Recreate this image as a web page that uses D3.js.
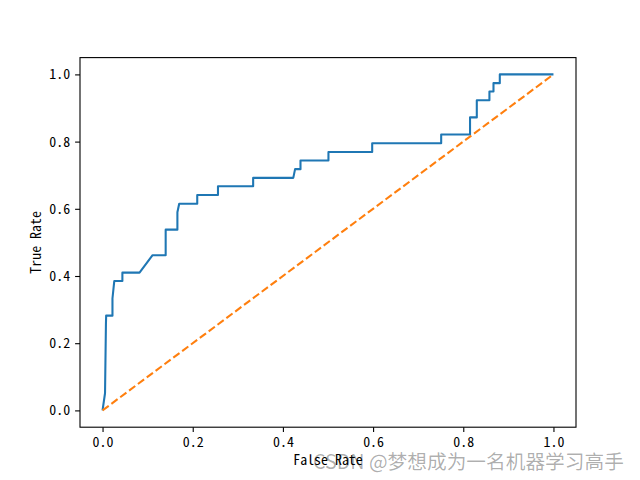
<!DOCTYPE html>
<html><head><meta charset="utf-8">
<script src="https://cdn.jsdelivr.net/npm/d3@7/dist/d3.min.js"></script>
<style>body{margin:0;background:#fff}svg{display:block}</style>
</head><body><svg id="c" width="640" height="480"></svg>
<script>
const fpr = [0,0.0055,0.0075,0.008,0.022,0.022,0.026,0.044,0.044,0.082,0.111,0.140,0.140,0.166,0.166,0.170,0.210,0.210,0.256,0.256,0.334,0.334,0.423,0.427,0.439,0.439,0.501,0.501,0.598,0.598,0.751,0.751,0.815,0.815,0.830,0.830,0.858,0.858,0.867,0.867,0.881,0.881,1.0];
const tpr = [0,0.051,0.256,0.282,0.282,0.333,0.385,0.385,0.410,0.410,0.462,0.462,0.538,0.538,0.590,0.615,0.615,0.641,0.641,0.667,0.667,0.692,0.692,0.718,0.718,0.744,0.744,0.769,0.769,0.795,0.795,0.821,0.821,0.872,0.872,0.923,0.923,0.949,0.949,0.974,0.974,1,1];
const diagX = [0,1];
const diagY = [0,1];
const ticks = [0,0.2,0.4,0.6,0.8,1.0];
const xLabel = "False Rate", yLabel = "True Rate";
const watermark = "CSDN @梦想成为一名机器学习高手";

const svg = d3.select("#c");
const L=80,R=576,T=57.6,B=427.2;
const x = d3.scaleLinear().domain([-0.05,1.05]).range([L,R]);
const y = d3.scaleLinear().domain([-0.05,1.05]).range([B,T]);
const font = "'Noto Sans Mono CJK SC', 'Noto Sans CJK SC', 'DejaVu Sans', sans-serif";
const wfont = "'Noto Sans CJK SC', sans-serif";

const line = d3.line().x(d=>x(d[0])).y(d=>y(d[1]));
svg.append("path").datum(fpr.map((v,i)=>[v,tpr[i]])).attr("d",line)
  .attr("fill","none").attr("stroke","#1f77b4").attr("stroke-width",2.08).attr("stroke-linejoin","round");
svg.append("path").datum(diagX.map((v,i)=>[v,diagY[i]])).attr("d",line)
  .attr("fill","none").attr("stroke","#ff7f0e").attr("stroke-width",2.08).attr("stroke-dasharray","7.7,3.33");

const xa = svg.append("g").attr("transform",`translate(0,${B})`)
  .call(d3.axisBottom(x).tickValues(ticks).tickFormat(d3.format(".1f")).tickSizeOuter(0).tickSize(4.9).tickPadding(4.9));
const ya = svg.append("g").attr("transform",`translate(${L},0)`)
  .call(d3.axisLeft(y).tickValues(ticks).tickFormat(d3.format(".1f")).tickSizeOuter(0).tickSize(4.9).tickPadding(4.9));
[xa,ya].forEach(a=>{a.select(".domain").remove();a.selectAll("line").attr("stroke","#000").attr("stroke-width",1.1);
  a.selectAll("text").attr("font-family",font).attr("font-size","13.9px").attr("fill","#000");});
svg.append("rect").attr("x",L).attr("y",T).attr("width",R-L).attr("height",B-T)
  .attr("fill","none").attr("stroke","#000").attr("stroke-width",1.1);

svg.append("text").attr("x",(L+R)/2).attr("y",465).attr("text-anchor","middle")
  .attr("font-family",font).attr("font-size","13.9px").text(xLabel);
svg.append("text").attr("transform",`translate(41,${(T+B)/2}) rotate(-90)`).attr("text-anchor","middle")
  .attr("font-family",font).attr("font-size","13.9px").text(yLabel);
svg.append("text").attr("x",313).attr("y",469).attr("font-family",wfont).attr("font-size","19.7px")
  .attr("fill","#000").attr("fill-opacity",0.33).text(watermark);
</script></body></html>
